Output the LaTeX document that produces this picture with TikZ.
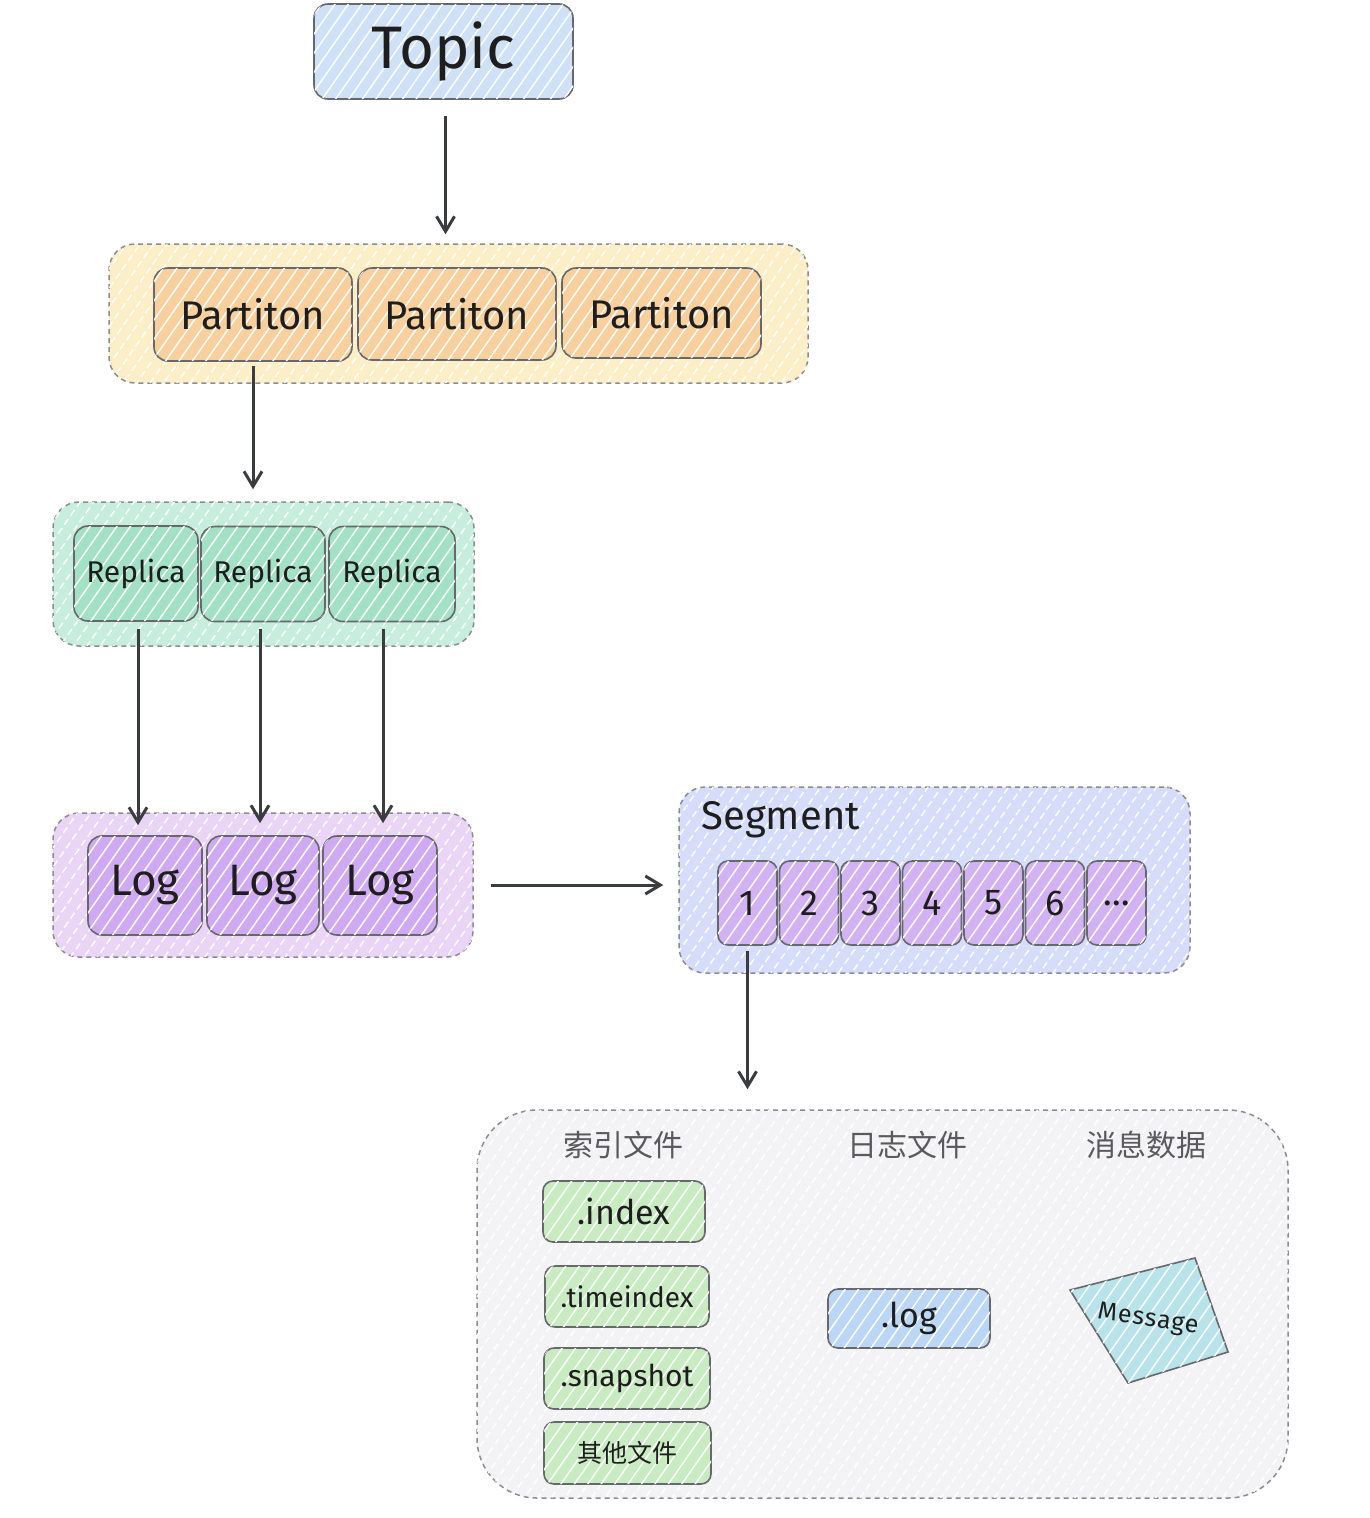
\documentclass[tikz,border=0pt]{standalone}
\usepackage{fontspec}
\setmainfont{Fira Sans}
\newfontfamily\cjk{Noto Sans CJK SC}
\newfontfamily\msgfont[LetterSpace=4]{Fira Sans}
\usepackage{tikz}
\usetikzlibrary{arrows.meta}
\usetikzlibrary{patterns.meta}
\usetikzlibrary{calc}

\definecolor{ink}{HTML}{1E1E1E}
\definecolor{boxline}{HTML}{66686B}
\definecolor{grpline}{HTML}{8A8C90}
\definecolor{arrowink}{HTML}{3A3C40}
\definecolor{topicblue}{HTML}{CFE1F7}
\definecolor{partbg}{HTML}{FCEFC8}
\definecolor{partfill}{HTML}{F8D09E}
\definecolor{repbg}{HTML}{C7EEDC}
\definecolor{repfill}{HTML}{A3E1C5}
\definecolor{logbg}{HTML}{EAD5F7}
\definecolor{logfill}{HTML}{CFAAF2}
\definecolor{segbg}{HTML}{D5DDFA}
\definecolor{segfill}{HTML}{D2B2F2}
\definecolor{filebg}{HTML}{F3F3F5}
\definecolor{greenfill}{HTML}{C8EBC2}
\definecolor{logfile}{HTML}{BCD6F5}
\definecolor{msgfill}{HTML}{B9E3EA}
\definecolor{headgrey}{HTML}{5A5A5E}

\begin{document}
\begin{tikzpicture}[x=1pt,y=-1pt,
  box/.style={draw=boxline, line width=1.6pt, rounded corners=14pt, inner sep=0pt, text=ink},
  grp/.style={draw=grpline, dash pattern=on 5pt off 4pt, line width=1.5pt, rounded corners=26pt, inner sep=0pt},
  hatch/.style={postaction={pattern={Lines[angle=55,distance=11pt,line width=1.4pt]}, pattern color=white, fill opacity=0.25}},
  arr/.style={draw=arrowink, line width=3pt, -{Straight Barb[length=15pt,width=18pt]}},
  head/.style={text=headgrey, font=\cjk\fontsize{30}{36}\selectfont}]
  \useasboundingbox (0,0) rectangle (1370,1518);

  % Topic
  \node[box, fill=topicblue, hatch, minimum width=259pt, minimum height=95pt, font=\fontsize{60}{72}\selectfont] (topic) at (443.5,51.5) {Topic};

  % Partition group
  \node[grp, fill=partbg, hatch, minimum width=699pt, minimum height=139pt] (partgrp) at (458.5,313.5) {};
  \node[box, fill=partfill, hatch, minimum width=198pt, minimum height=93pt, font=\fontsize{40}{48}\selectfont] (part1) at (253,314.5) {Partiton};
  \node[box, fill=partfill, hatch, minimum width=198pt, minimum height=92pt, font=\fontsize{40}{48}\selectfont] (part2) at (457,314) {Partiton};
  \node[box, fill=partfill, hatch, minimum width=199pt, minimum height=90pt, font=\fontsize{40}{48}\selectfont] (part3) at (661.5,313) {Partiton};

  % Replica group
  \node[grp, fill=repbg, hatch, minimum width=421pt, minimum height=144pt] (repgrp) at (263.5,574) {};
  \node[box, fill=repfill, hatch, minimum width=124pt, minimum height=95pt, font=\fontsize{30}{36}\selectfont] (rep1) at (136,573.5) {Replica};
  \node[box, fill=repfill, hatch, minimum width=124pt, minimum height=95pt, font=\fontsize{30}{36}\selectfont] (rep2) at (263,574) {Replica};
  \node[box, fill=repfill, hatch, minimum width=126pt, minimum height=95pt, font=\fontsize{30}{36}\selectfont] (rep3) at (392,574) {Replica};

  % Log group
  \node[grp, fill=logbg, hatch, minimum width=420pt, minimum height=144pt] (loggrp) at (263,885) {};
  \node[box, fill=logfill, hatch, minimum width=114pt, minimum height=99pt, font=\fontsize{44}{52}\selectfont] (log1) at (145,885.5) {Log};
  \node[box, fill=logfill, hatch, minimum width=112pt, minimum height=99pt, font=\fontsize{44}{52}\selectfont] (log2) at (263,885.5) {Log};
  \node[box, fill=logfill, hatch, minimum width=114pt, minimum height=99pt, font=\fontsize{44}{52}\selectfont] (log3) at (380,885.5) {Log};

  % Segment group
  \node[grp, fill=segbg, hatch, minimum width=511pt, minimum height=186pt] (seggrp) at (934.5,880) {};
  \node[anchor=west, text=ink, font=\fontsize{40}{48}\selectfont] (seglabel) at (698,820) {Segment};
  \foreach \n/\t in {1/1,2/2,3/3,4/4,5/5,6/6,7/{\ldots}}
    \node[box, fill=segfill, hatch, rounded corners=10pt, minimum width=59pt, minimum height=84pt, font=\fontsize{36}{42}\selectfont] (seg\n) at ({747.5+(\n-1)*61.5},903) {\t};

  % File group
  \node[grp, fill=filebg, hatch, rounded corners=60pt, minimum width=811pt, minimum height=388pt] (filegrp) at (882.5,1304) {};
  \node[head] (headidx) at (623,1145) {索引文件};
  \node[head] (headlog) at (907,1145) {日志文件};
  \node[head] (headmsg) at (1146,1145) {消息数据};
  \node[box, fill=greenfill, hatch, rounded corners=10pt, minimum width=162pt, minimum height=61pt, font=\fontsize{34}{40}\selectfont] (index) at (624,1211.5) {.index};
  \node[box, fill=greenfill, hatch, rounded corners=10pt, minimum width=164pt, minimum height=61pt, font=\fontsize{28}{34}\selectfont] (timeindex) at (627,1296.5) {.timeindex};
  \node[box, fill=greenfill, hatch, rounded corners=10pt, minimum width=166pt, minimum height=61pt, font=\fontsize{30}{36}\selectfont] (snapshot) at (627,1378.5) {.snapshot};
  \node[box, fill=greenfill, hatch, rounded corners=10pt, minimum width=167pt, minimum height=62pt, font=\cjk\fontsize{25}{30}\selectfont] (other) at (627.5,1453) {其他文件};
  \node[box, fill=logfile, hatch, rounded corners=10pt, minimum width=162pt, minimum height=59pt, font=\fontsize{34}{40}\selectfont] (logfile) at (909,1318.5) {.log};

  % Message card
  \draw[draw=boxline, line width=1.6pt, fill=msgfill, hatch] (1070,1290) -- (1195,1258) -- (1228,1352) -- (1128,1383) -- cycle;
  \node[rotate=-8, text=ink, font=\msgfont\fontsize{25}{30}\selectfont] (message) at (1148,1320) {Message};

  %Straight Lines
  \draw[arr, shorten <=16pt, shorten >=9pt] ($(topic.south)+(2,0)$) -- ($(topic.south |- partgrp.north)+(2,0)$);
  \draw[arr, shorten <=4pt, shorten >=12pt] (part1.south) -- (part1.south |- repgrp.north);
  \draw[arr, shorten <=7pt, shorten >=10pt] ($(rep1.south)+(2,0)$) -- ($(rep1.south |- log1.north)+(2,0)$);
  \draw[arr, shorten <=7pt, shorten >=12pt] ($(rep2.south)+(-3,0)$) -- ($(rep2.south |- log2.north)+(-3,0)$);
  \draw[arr, shorten <=7pt, shorten >=12pt] ($(rep3.south)+(-9,0)$) -- ($(rep3.south |- log3.north)+(-9,0)$);
  \draw[arr, shorten <=17pt, shorten >=15pt] (loggrp.east) -- (loggrp.east -| seggrp.west);
  \draw[arr, shorten <=5pt, shorten >=20pt] (seg1.south) -- (seg1.south |- filegrp.north);
\end{tikzpicture}
\end{document}
